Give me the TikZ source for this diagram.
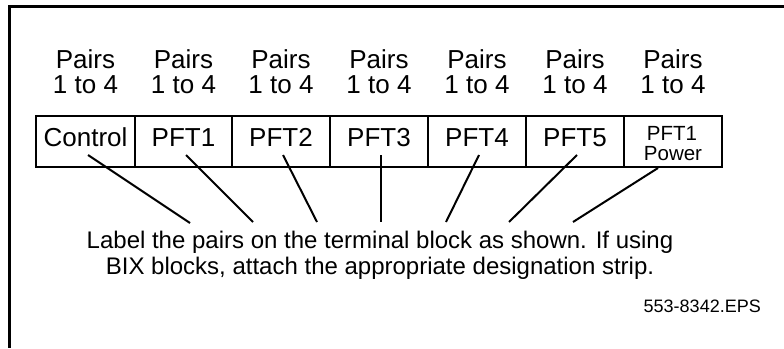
\documentclass[tikz,border=0pt]{standalone}
\usepackage{fontspec}
\setmainfont{Liberation Sans}
\begin{document}
\begin{tikzpicture}[x=1pt,y=-1pt,
  frame/.style={line width=3pt, line join=miter},
  cell/.style={draw, line width=2pt, minimum height=51pt, inner sep=0pt, outer sep=0pt,
    text height=18pt, text depth=9pt, font=\fontsize{26}{25}\selectfont},
  big/.style={font=\fontsize{26}{25}\selectfont, inner sep=0pt, anchor=base},
  small/.style={font=\fontsize{20.5}{20.5}\selectfont, inner sep=0pt, anchor=base},
  note/.style={font=\fontsize{24}{26}\selectfont, inner sep=0pt, anchor=base},
  conn/.style={line width=2pt}
]
\useasboundingbox (0,0) rectangle (784,348);
% frame (top and left edges)
\draw[frame] (784,6) -- (9,6) -- (9,348);
% header labels
\foreach \x [count=\i] in {85.5,183.5,281,379,477,575,673} {
  \node[big] (pa\i) at (\x,68) {Pairs};
  \node[big] (pb\i) at (\x,93) {1 to 4};
}
% terminal block cells
\node[cell, minimum width=99pt] (c1) at (85.5,141.5) {Control};
\node[cell, minimum width=97pt] (c2) at (183.5,141.5) {PFT1};
\node[cell, minimum width=98pt] (c3) at (281,141.5) {PFT2};
\node[cell, minimum width=98pt] (c4) at (379,141.5) {PFT3};
\node[cell, minimum width=98pt] (c5) at (477,141.5) {PFT4};
\node[cell, minimum width=98pt] (c6) at (575,141.5) {PFT5};
\node[cell, minimum width=98pt] (c7) at (673,141.5) {};
\node[small] (pw1) at (672,140) {PFT1};
\node[small] (pw2) at (673,160.5) {Power};
% connector end points
\coordinate (s1) at (88,155);  \coordinate (e1) at (190,223);
\coordinate (s2) at (186,155); \coordinate (e2) at (253,222);
\coordinate (s3) at (283,155); \coordinate (e3) at (317,222);
\coordinate (s4) at (381,155); \coordinate (e4) at (381,222);
\coordinate (s5) at (479,155); \coordinate (e5) at (446,222);
\coordinate (s6) at (577,155); \coordinate (e6) at (509,222);
\coordinate (s7) at (658,168); \coordinate (e7) at (573,222);
\foreach \i in {1,...,7} { \draw[conn] (s\i) -- (e\i); }
% note text
\node[note] (t1) at (380,248) {Label the pairs on the terminal block as shown. If using};
\node[note] (t2) at (380,274) {BIX blocks, attach the appropriate designation strip.};
\node[font=\fontsize{18}{18}\selectfont, inner sep=0pt, anchor=base east] (eps) at (761,312) {553-8342.EPS};
\end{tikzpicture}
\end{document}
